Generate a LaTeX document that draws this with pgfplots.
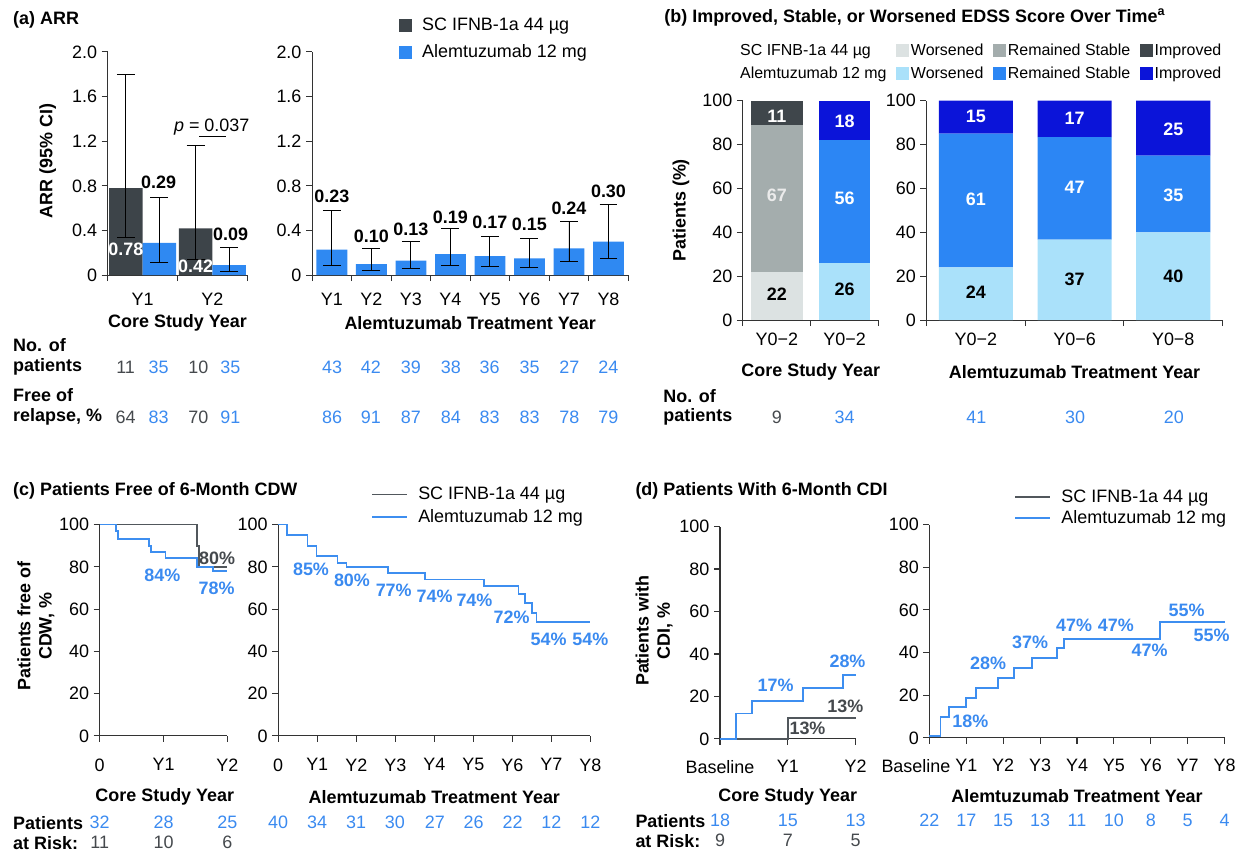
\documentclass[border=0pt]{standalone}
\usepackage{fontspec}
\setmainfont{Liberation Sans}
\usepackage{pgfplots}
\pgfplotsset{compat=1.18}
\newcommand\fsz{\fontsize{13.5}{16}\selectfont}
\newcommand\fsm{\fontsize{12}{14}\selectfont}
\definecolor{scd}{HTML}{3D4449}
\definecolor{blA}{HTML}{2F89F2}
\definecolor{scw}{HTML}{DCE2E2}
\definecolor{scs}{HTML}{A4ADAD}
\definecolor{sci}{HTML}{3F464B}
\definecolor{aw}{HTML}{AAE1FA}
\definecolor{as}{HTML}{2C86F4}
\definecolor{ai}{HTML}{0B14D9}
\definecolor{lgray}{HTML}{51575C}
\definecolor{lblue}{HTML}{3D8EF0}
\definecolor{tblue}{HTML}{3A8AF0}
\definecolor{tgray}{HTML}{45494D}
\definecolor{axc}{HTML}{333333}
\pgfplotsset{
  px at/.style 2 args={at={({#1*0.75pt},{(853-#2)*0.75pt})}, anchor=south west},
  base/.style={scale only axis, axis x line*=bottom, axis y line*=left,
    axis line style={axc, line width=0.8pt, -},
    every tick/.style={axc, line width=0.8pt},
    tick align=outside, major tick length=4.5pt,
    tick label style={font=\fsz},
    label style={font=\fsz\bfseries},
    xlabel style={anchor=center}, ylabel style={anchor=center, align=center},
    clip=false},
  errs/.style={error bars/y dir=both, error bars/y explicit,
     error bars/error bar style={black, line width=0.7pt},
     error bars/error mark options={rotate=90, black, mark size=6.75pt, line width=0.7pt}},
  sqleg/.style={legend image code/.code={\fill[#1] (0pt,-4.5pt) rectangle (9pt,4.5pt);}},
  lnleg/.style={legend image code/.code={\draw[#1, line width=1.4pt] (0pt,0pt) -- (26pt,0pt);}},
}
\newcommand\TT[4][black]{\node[text=#1, inner sep=0pt] at (#2,{853-#3}) {#4};}
\newcommand\BL[3]{\node[anchor=west, inner sep=0pt, font=\fsz\bfseries] at (#1,{853-#2}) {#3};}
\begin{document}
\begin{tikzpicture}[x=0.75pt, y=0.75pt, font=\fsz]
\path (0,0) rectangle (1240,853);
% ---------------- (a) left
\begin{axis}[base, px at={108}{276}, width=105pt, height=168pt,
  xmin=0.5, xmax=2.5, ymin=0, ymax=2, xticklabel style={yshift=-5.5pt},
  xtick={0.5,1.5,2.5}, x tick label as interval, xticklabels={Y1,Y2,},
  ytick={0,0.4,0.8,1.2,1.6,2.0}, yticklabels={0,0.4,0.8,1.2,1.6,2.0},
  ylabel={ARR (95\% CI)}, ylabel style={at={(axis description cs:-0.43,0.51)}},
  xlabel={Core Study Year}, xlabel style={at={(axis description cs:0.5,-0.212)}}]
\addplot[ybar, bar width=0.48, bar shift=0pt, fill=scd, draw=none, errs]
  coordinates {(0.76,0.78) += (0,1.02) -= (0,0.44) (1.76,0.42) += (0,0.74) -= (0,0.28)};
\addplot[ybar, bar width=0.48, bar shift=0pt, fill=blA, draw=none, errs]
  coordinates {(1.24,0.29) += (0,0.41) -= (0,0.18) (2.24,0.09) += (0,0.16) -= (0,0.06)};
\node[font=\fsz\bfseries, text=white] at (axis cs:0.76,0.23) {0.78};
\node[font=\fsz\bfseries, text=white] at (axis cs:1.76,0.08) {0.42};
\node[font=\fsz\bfseries] at (axis cs:1.23,0.83) {0.29};
\node[font=\fsz\bfseries] at (axis cs:2.26,0.37) {0.09};
\node at (axis cs:1.99,1.33) {\textit{p} = 0.037};
\draw[black, line width=0.7pt] (axis cs:1.81,1.24) -- (axis cs:2.19,1.24);
\end{axis}
% ---------------- (a) right
\begin{axis}[base, px at={313}{276}, width=237.75pt, height=168pt,
  xmin=0.5, xmax=8.5, ymin=0, ymax=2, xticklabel style={yshift=-5.5pt},
  xtick={0.5,1.5,...,8.5}, x tick label as interval, xticklabels={Y1,Y2,Y3,Y4,Y5,Y6,Y7,Y8,},
  ytick={0,0.4,0.8,1.2,1.6,2.0}, yticklabels={0,0.4,0.8,1.2,1.6,2.0},
  xlabel={Alemtuzumab Treatment Year}, xlabel style={at={(axis description cs:0.5,-0.212)}},
  legend style={at={(axis description cs:0.274,1.163)}, anchor=north west, draw=none, fill=none,
    font=\fsz, row sep=5pt, inner sep=0pt, /tikz/every odd column/.append style={column sep=6pt}},
  legend cell align=left]
\addlegendimage{sqleg=scd}\addlegendentry{SC IFNB-1a 44 µg}
\addlegendimage{sqleg=blA}\addlegendentry{Alemtuzumab 12 mg}
\addplot[ybar, bar width=0.78, bar shift=0pt, fill=blA, draw=none, errs, forget plot]
  coordinates {(1,0.23) += (0,0.35) -= (0,0.14) (2,0.10) += (0,0.14) -= (0,0.06)
   (3,0.13) += (0,0.17) -= (0,0.07) (4,0.19) += (0,0.23) -= (0,0.10)
   (5,0.17) += (0,0.18) -= (0,0.09) (6,0.15) += (0,0.18) -= (0,0.08)
   (7,0.24) += (0,0.24) -= (0,0.12) (8,0.30) += (0,0.33) -= (0,0.15)};
\node[font=\fsz\bfseries] at (axis cs:1,0.705) {0.23};
\node[font=\fsz\bfseries] at (axis cs:2,0.35) {0.10};
\node[font=\fsz\bfseries] at (axis cs:3,0.41) {0.13};
\node[font=\fsz\bfseries] at (axis cs:4,0.52) {0.19};
\node[font=\fsz\bfseries] at (axis cs:5,0.475) {0.17};
\node[font=\fsz\bfseries] at (axis cs:6,0.455) {0.15};
\node[font=\fsz\bfseries] at (axis cs:7,0.60) {0.24};
\node[font=\fsz\bfseries] at (axis cs:8,0.75) {0.30};
\end{axis}
% ---------------- (b) left
\begin{axis}[base, px at={745}{321}, width=102pt, height=165pt,
  xmin=0.5, xmax=2.5, ymin=0, ymax=100, ybar stacked, bar width=0.76,
  xtick={0.5,1.5,2.5}, x tick label as interval, xticklabels={Y0−2,Y0−2,},
  xticklabel style={yshift=-1.5pt},
  ytick={0,20,40,60,80,100}, yticklabels={0,20,40,60,80,100},
  ylabel={Patients (\%)}, ylabel style={at={(axis description cs:-0.456,0.5)}},
  xlabel={Core Study Year}, xlabel style={at={(axis description cs:0.5,-0.235)}},
  legend columns=4,
  legend style={at={(axis description cs:-0.037,1.266)}, anchor=north west, draw=none, fill=none,
    font=\fsm, row sep=5pt, inner sep=0pt, nodes={inner sep=1pt},
    /tikz/every even column/.append style={column sep=6.5pt},
    /tikz/every odd column/.append style={column sep=0.5pt}},
  legend cell align=left]
\addlegendimage{empty legend}\addlegendentry{SC IFNB-1a 44 µg}
\addlegendimage{sqleg=scw}\addlegendentry{Worsened}
\addlegendimage{sqleg=scs}\addlegendentry{Remained Stable}
\addlegendimage{sqleg=sci}\addlegendentry{Improved}
\addlegendimage{empty legend}\addlegendentry{Alemtuzumab 12 mg}
\addlegendimage{sqleg=aw}\addlegendentry{Worsened}
\addlegendimage{sqleg=as}\addlegendentry{Remained Stable}
\addlegendimage{sqleg=ai}\addlegendentry{Improved}
\addplot[fill=scw, draw=none, forget plot] coordinates {(1,22) (2,0)};
\addplot[fill=scs, draw=none, forget plot] coordinates {(1,67) (2,0)};
\addplot[fill=sci, draw=none, forget plot] coordinates {(1,11) (2,0)};
\addplot[fill=aw, draw=none, forget plot] coordinates {(1,0) (2,26)};
\addplot[fill=as, draw=none, forget plot] coordinates {(1,0) (2,56)};
\addplot[fill=ai, draw=none, forget plot] coordinates {(1,0) (2,18)};
\end{axis}
\begin{axis}[scale only axis, hide axis, clip=false, px at={745}{321}, width=102pt, height=165pt,
  xmin=0.5, xmax=2.5, ymin=0, ymax=100]
\node[font=\fsz\bfseries, text=white] at (axis cs:1,93) {11};
\node[font=\fsz\bfseries, text=black!8] at (axis cs:1,57) {67};
\node[font=\fsz\bfseries] at (axis cs:1,12) {22};
\node[font=\fsz\bfseries, text=white] at (axis cs:2,90.5) {18};
\node[font=\fsz\bfseries, text=white] at (axis cs:2,55.5) {56};
\node[font=\fsz\bfseries] at (axis cs:2,14) {26};
\end{axis}
% ---------------- (b) right
\begin{axis}[base, px at={929}{321}, width=222.75pt, height=165pt,
  xmin=0.5, xmax=3.5, ymin=0, ymax=100, ybar stacked, bar width=0.75,
  xtick={0.5,1.5,2.5,3.5}, x tick label as interval, xticklabels={Y0−2,Y0−6,Y0−8,},
  xticklabel style={yshift=-1.5pt},
  ytick={0,20,40,60,80,100}, yticklabels={0,20,40,60,80,100},
  xlabel={Alemtuzumab Treatment Year}, xlabel style={at={(axis description cs:0.5,-0.235)}}]
\addplot[fill=aw, draw=none] coordinates {(1,24) (2,36.7) (3,40)};
\addplot[fill=as, draw=none] coordinates {(1,61) (2,46.7) (3,35)};
\addplot[fill=ai, draw=none] coordinates {(1,15) (2,16.6) (3,25)};
\end{axis}
\begin{axis}[scale only axis, hide axis, clip=false, px at={929}{321}, width=222.75pt, height=165pt,
  xmin=0.5, xmax=3.5, ymin=0, ymax=100]
\node[font=\fsz\bfseries, text=white] at (axis cs:1,92.7) {15};
\node[font=\fsz\bfseries, text=white] at (axis cs:1,55) {61};
\node[font=\fsz\bfseries] at (axis cs:1,12.7) {24};
\node[font=\fsz\bfseries, text=white] at (axis cs:2,92) {17};
\node[font=\fsz\bfseries, text=white] at (axis cs:2,60.5) {47};
\node[font=\fsz\bfseries] at (axis cs:2,18.6) {37};
\node[font=\fsz\bfseries, text=white] at (axis cs:3,87) {25};
\node[font=\fsz\bfseries, text=white] at (axis cs:3,57) {35};
\node[font=\fsz\bfseries] at (axis cs:3,20) {40};
\end{axis}
% ---------------- (c) left
\begin{axis}[base, px at={100}{738}, width=96pt, height=159pt,
  xmin=0, xmax=2, ymin=0, ymax=100, xticklabel style={yshift=-9pt},
  xtick={0,1,2}, xticklabels={0,Y1,Y2},
  ytick={0,20,40,60,80,100}, yticklabels={0,20,40,60,80,100},
  ylabel={Patients free of\\CDW, \%}, ylabel style={at={(axis description cs:-0.5,0.52)}},
  xlabel={Core Study Year}, xlabel style={at={(axis description cs:0.51,-0.29)}}]
\addplot[const plot, lgray, line width=1.4pt, mark=none] coordinates {(0,100) (1.52,90) (1.55,80) (2,80)};
\addplot[const plot, lblue, line width=1.4pt, mark=none] coordinates {(0,100) (0.25,97) (0.28,93) (0.77,90) (0.8,87) (1.03,84) (1.52,80) (1.77,78) (2,78)};
\node[font=\fsz\bfseries, text=tgray] at (axis cs:1.84,84) {80\%};
\node[font=\fsz\bfseries, text=tblue] at (axis cs:0.98,76) {84\%};
\node[font=\fsz\bfseries, text=tblue] at (axis cs:1.83,70) {78\%};
\end{axis}
% ---------------- (c) right
\begin{axis}[base, px at={279}{738}, width=234.75pt, height=159pt,
  xmin=0, xmax=8, ymin=0, ymax=100, xticklabel style={yshift=-9pt},
  xtick={0,1,...,8}, xticklabels={0,Y1,Y2,Y3,Y4,Y5,Y6,Y7,Y8},
  ytick={0,20,40,60,80,100}, yticklabels={0,20,40,60,80,100},
  xlabel={Alemtuzumab Treatment Year}, xlabel style={at={(axis description cs:0.5,-0.29)}},
  legend style={at={(axis description cs:0.297,1.19)}, anchor=north west, draw=none, fill=none,
    font=\fsz, row sep=2pt, inner sep=0pt, /tikz/every odd column/.append style={column sep=6pt}},
  legend cell align=left]
\addlegendimage{lnleg=lgray}\addlegendentry{SC IFNB-1a 44 µg}
\addlegendimage{lnleg=lblue}\addlegendentry{Alemtuzumab 12 mg}
\addplot[const plot, lblue, line width=1.4pt, mark=none, forget plot] coordinates {(0,100) (0.23,95) (0.75,90) (0.98,85) (1.52,82) (1.75,80) (2.82,77) (3.77,74) (5.28,71) (6.16,67) (6.33,63) (6.5,58) (6.62,54) (8,54)};
\node[font=\fsz\bfseries, text=tblue] at (axis cs:0.84,79) {85\%};
\node[font=\fsz\bfseries, text=tblue] at (axis cs:1.89,73.5) {80\%};
\node[font=\fsz\bfseries, text=tblue] at (axis cs:2.96,69) {77\%};
\node[font=\fsz\bfseries, text=tblue] at (axis cs:4.01,66) {74\%};
\node[font=\fsz\bfseries, text=tblue] at (axis cs:5.03,64) {74\%};
\node[font=\fsz\bfseries, text=tblue] at (axis cs:5.98,56) {72\%};
\node[font=\fsz\bfseries, text=tblue] at (axis cs:6.93,45.5) {54\%};
\node[font=\fsz\bfseries, text=tblue] at (axis cs:8.0,45.5) {54\%};
\end{axis}
% ---------------- (d) left
\begin{axis}[base, px at={722}{741}, width=102pt, height=159.75pt,
  xmin=0, xmax=2, ymin=0, ymax=100, xticklabel style={yshift=-8pt},
  xtick={0,1,2}, xticklabels={Baseline,Y1,Y2},
  ytick={0,20,40,60,80,100}, yticklabels={0,20,40,60,80,100},
  ylabel={Patients with\\CDI, \%}, ylabel style={at={(axis description cs:-0.485,0.51)}},
  xlabel={Core Study Year}, xlabel style={at={(axis description cs:0.5,-0.272)}}]
\addplot[const plot, lgray, line width=1.4pt, mark=none] coordinates {(0,0) (1.0,10) (2,10)};
\addplot[const plot, lblue, line width=1.4pt, mark=none] coordinates {(0,0) (0.23,12) (0.47,18) (1.22,24) (1.82,30) (2,30)};
\node[font=\fsz\bfseries, text=tblue] at (axis cs:0.82,25.4) {17\%};
\node[font=\fsz\bfseries, text=tblue] at (axis cs:1.88,36.6) {28\%};
\node[font=\fsz\bfseries, text=tgray] at (axis cs:1.85,15.5) {13\%};
\node[font=\fsz\bfseries, text=tgray] at (axis cs:1.29,5) {13\%};
\end{axis}
% ---------------- (d) right
\begin{axis}[base, px at={932}{740}, width=222pt, height=160.5pt,
  xmin=0, xmax=8, ymin=0, ymax=100, xticklabel style={yshift=-8pt},
  xtick={0,1,...,8}, xticklabels={\makebox[0pt][r]{Baseline\hspace{-15.75pt}},Y1,Y2,Y3,Y4,Y5,Y6,Y7,Y8},
  ytick={0,20,40,60,80,100}, yticklabels={0,20,40,60,80,100},
  xlabel={Alemtuzumab Treatment Year}, xlabel style={at={(axis description cs:0.5,-0.272)}},
  legend style={at={(axis description cs:0.287,1.177)}, anchor=north west, draw=none, fill=none,
    font=\fsz, row sep=1pt, inner sep=0pt, /tikz/every odd column/.append style={column sep=6pt}},
  legend cell align=left]
\addlegendimage{lnleg=lgray}\addlegendentry{SC IFNB-1a 44 µg}
\addlegendimage{lnleg=lblue}\addlegendentry{Alemtuzumab 12 mg}
\addplot[const plot, lblue, line width=1.4pt, mark=none, forget plot] coordinates {(0,1) (0.3,10) (0.54,14.5) (0.98,18.7) (1.27,23.4) (1.86,28) (2.3,32.7) (2.79,37.4) (3.46,42) (3.65,46.5) (6.24,54.5) (8,54.5)};
\node[font=\fsz\bfseries, text=tblue] at (axis cs:1.11,8) {18\%};
\node[font=\fsz\bfseries, text=tblue] at (axis cs:1.59,35) {28\%};
\node[font=\fsz\bfseries, text=tblue] at (axis cs:2.73,45) {37\%};
\node[font=\fsz\bfseries, text=tblue] at (axis cs:3.92,53) {47\%};
\node[font=\fsz\bfseries, text=tblue] at (axis cs:5.05,53) {47\%};
\node[font=\fsz\bfseries, text=tblue] at (axis cs:5.97,41) {47\%};
\node[font=\fsz\bfseries, text=tblue] at (axis cs:6.97,60) {55\%};
\node[font=\fsz\bfseries, text=tblue] at (axis cs:7.65,48) {55\%};
\end{axis}
% ---------------- titles
\BL{13}{20}{(a) ARR}
\BL{666}{18}{(b) Improved, Stable, or Worsened EDSS Score Over Time\textsuperscript{a}}
\BL{13}{492}{(c) Patients Free of 6-Month CDW}
\BL{637}{492}{(d) Patients With 6-Month CDI}
% ---------------- table (a)
\BL{13}{346}{No. of}
\BL{13}{368}{patients}
\BL{13}{396}{Free of}
\BL{13}{418}{relapse, \%}
\TT[tgray]{126}{368}{11}\TT[tblue]{159}{368}{35}\TT[tgray]{199}{368}{10}\TT[tblue]{231}{368}{35}
\TT[tgray]{126}{418}{64}\TT[tblue]{159}{418}{83}\TT[tgray]{199}{418}{70}\TT[tblue]{231}{418}{91}
\TT[tblue]{333}{368}{43}\TT[tblue]{372}{368}{42}\TT[tblue]{412}{368}{39}\TT[tblue]{452}{368}{38}
\TT[tblue]{491}{368}{36}\TT[tblue]{531}{368}{35}\TT[tblue]{571}{368}{27}\TT[tblue]{610}{368}{24}
\TT[tblue]{333}{418}{86}\TT[tblue]{372}{418}{91}\TT[tblue]{412}{418}{87}\TT[tblue]{452}{418}{84}
\TT[tblue]{491}{418}{83}\TT[tblue]{531}{418}{83}\TT[tblue]{571}{418}{78}\TT[tblue]{610}{418}{79}
% ---------------- table (b)
\BL{665}{397}{No. of}
\BL{665}{418}{patients}
\TT[tgray]{779}{418}{9}\TT[tblue]{847}{418}{34}
\TT[tblue]{979}{418}{41}\TT[tblue]{1078}{418}{30}\TT[tblue]{1177}{418}{20}
% ---------------- table (c)
\BL{13}{825}{Patients}
\BL{13}{845}{at Risk:}
\TT[tblue]{100}{825}{32}\TT[tblue]{164}{825}{28}\TT[tblue]{228}{825}{25}
\TT[tgray]{100}{845}{11}\TT[tgray]{164}{845}{10}\TT[tgray]{228}{845}{6}
\TT[tblue]{279}{825}{40}\TT[tblue]{318}{825}{34}\TT[tblue]{357}{825}{31}\TT[tblue]{396}{825}{30}
\TT[tblue]{436}{825}{27}\TT[tblue]{475}{825}{26}\TT[tblue]{514}{825}{22}\TT[tblue]{553}{825}{12}\TT[tblue]{592}{825}{12}
% ---------------- table (d)
\BL{637}{823}{Patients}
\BL{637}{843}{at Risk:}
\TT[tblue]{722}{823}{18}\TT[tblue]{790}{823}{15}\TT[tblue]{858}{823}{13}
\TT[tgray]{722}{843}{9}\TT[tgray]{790}{843}{7}\TT[tgray]{858}{843}{5}
\TT[tblue]{932}{823}{22}\TT[tblue]{969}{823}{17}\TT[tblue]{1006}{823}{15}\TT[tblue]{1043}{823}{13}
\TT[tblue]{1080}{823}{11}\TT[tblue]{1117}{823}{10}\TT[tblue]{1154}{823}{8}\TT[tblue]{1191}{823}{5}\TT[tblue]{1228}{823}{4}
\end{tikzpicture}
\end{document}
